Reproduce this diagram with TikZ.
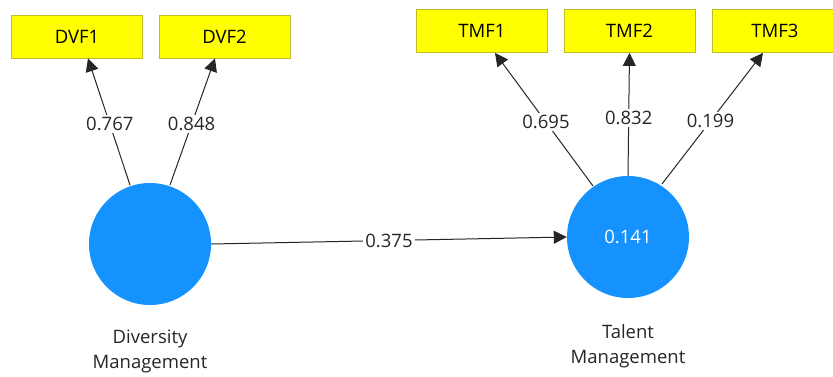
\documentclass[tikz,border=0pt]{standalone}
\usepackage{fontspec}
\setmainfont{Open Sans}
\usetikzlibrary{arrows.meta}
\definecolor{indfill}{RGB}{255,255,0}
\definecolor{inddraw}{RGB}{190,190,40}
\definecolor{latfill}{RGB}{22,146,255}
\tikzset{
  x=1pt, y=-1pt,
  every node/.style={font=\fontsize{18.5}{22}\selectfont},
  indicator/.style={draw=inddraw, fill=indfill, line width=0.8pt,
    minimum width=131pt, minimum height=43pt, inner sep=0pt},
  latent/.style={circle, fill=latfill, minimum size=122pt, inner sep=0pt,
    text=white},
  caption/.style={align=center, text=black!85, inner sep=0pt},
  loading/.style={-{Triangle[length=13pt,width=13pt]}, line width=1pt, black!85},
  coef/.style={fill=white, inner sep=2pt, text=black!85}
}
\begin{document}
\begin{tikzpicture}
  \useasboundingbox (0,0) rectangle (833,376);
  \clip (0,0) rectangle (833,376);
  \fill[white] (0,0) rectangle (833,376);

  % indicator boxes
  \node[indicator] (dvf1) at (77,36.5) {DVF1};
  \node[indicator] (dvf2) at (224.5,36.5) {DVF2};
  \node[indicator] (tmf1) at (482,31) {TMF1};
  \node[indicator] (tmf2) at (629.5,31) {TMF2};
  \node[indicator] (tmf3) at (777.5,31) {\hspace*{-5pt}TMF3};

  % latent constructs
  \node[latent] (dm) at (150,244) {};
  \node[latent] (tm) at (628,237) {0.141};
  \node[caption] at (150,351) {Diversity\\[3pt]Management};
  \node[caption] at (628,346) {Talent\\[3pt]Management};

  % outer loadings
  \coordinate (d1s) at (130,185);
  \coordinate (d2s) at (170,185);
  \coordinate (t1s) at (593,186);
  \coordinate (t3s) at (662,184);
  \draw[loading] (d1s) -- node[coef, pos=0.48] {0.767} (dvf1.south -| 88,0);
  \draw[loading] (d2s) -- node[coef, pos=0.48] {0.848} (dvf2.south -| 215,0);
  \draw[loading] (t1s) -- node[coef, pos=0.48] {0.695} (tmf1.south -| 495,0);
  \draw[loading] (tm.north) -- node[coef, pos=0.47] {0.832} (tmf2.south);
  \draw[loading] (t3s) -- node[coef, pos=0.48] {0.199} (tmf3.south -| 763,0);

  % path coefficient
  \draw[loading] (dm.east) -- node[coef, pos=0.5] {0.375} (tm.west);
\end{tikzpicture}
\end{document}
